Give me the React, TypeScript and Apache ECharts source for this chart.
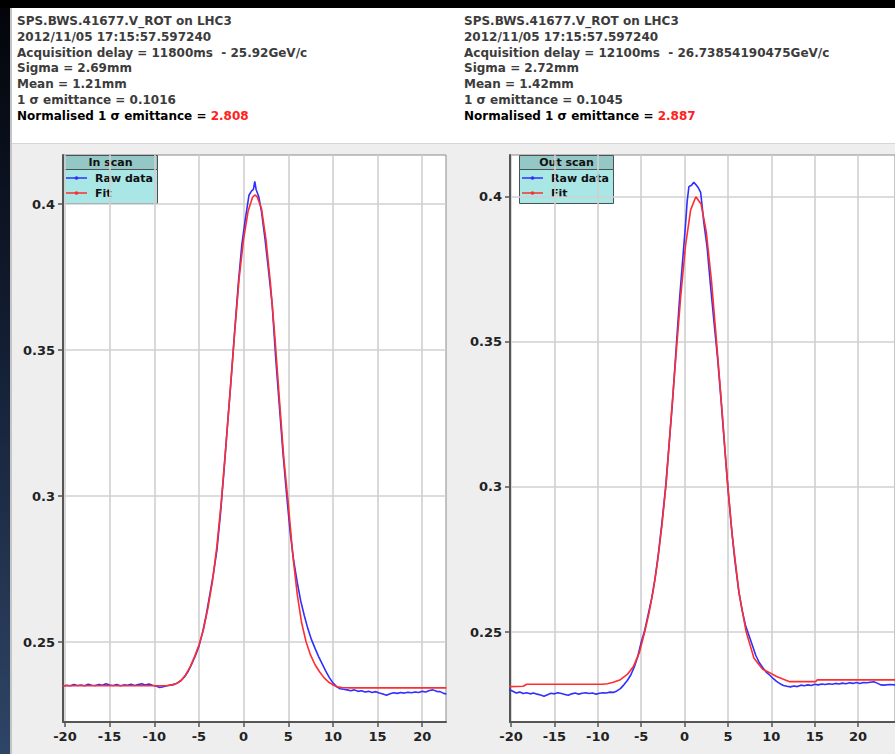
import React, { useEffect, useRef } from 'react';
import * as echarts from 'echarts';

const xTicks = [-20, -15, -10, -5, 0, 5, 10, 15, 20];
const yTicks = [0.25, 0.3, 0.35, 0.4];

const inScanTitle = 'In scan';
const outScanTitle = 'Out scan';
const rawName = 'Raw data';
const fitName = 'Fit';

const inInfo = [
  'SPS.BWS.41677.V_ROT on LHC3',
  '2012/11/05 17:15:57.597240',
  'Acquisition delay = 11800ms  - 25.92GeV/c',
  'Sigma = 2.69mm',
  'Mean = 1.21mm',
  '1 σ emittance = 0.1016',
];
const inNormLabel = 'Normalised 1 σ emittance = ';
const inNormValue = '2.808';

const outInfo = [
  'SPS.BWS.41677.V_ROT on LHC3',
  '2012/11/05 17:15:57.597240',
  'Acquisition delay = 12100ms  - 26.73854190475GeV/c',
  'Sigma = 2.72mm',
  'Mean = 1.42mm',
  '1 σ emittance = 0.1045',
];
const outNormLabel = 'Normalised 1 σ emittance = ';
const outNormValue = '2.887';

const inScanRaw: [number, number][] = [
  [-20.2, 0.2349], [-19.8, 0.2352], [-19.4, 0.235], [-19.0, 0.2354], [-18.6, 0.2351], [-18.2, 0.2353],
  [-17.8, 0.235], [-17.4, 0.2355], [-17.0, 0.2352], [-16.6, 0.2351], [-16.2, 0.2354], [-15.8, 0.2352],
  [-15.4, 0.2357], [-15.0, 0.2353], [-14.6, 0.2351], [-14.2, 0.2354], [-13.8, 0.235], [-13.4, 0.2353],
  [-13.0, 0.2352], [-12.6, 0.2355], [-12.2, 0.2351], [-11.8, 0.2354], [-11.4, 0.2357], [-11.0, 0.2353],
  [-10.6, 0.2356], [-10.2, 0.2352], [-9.8, 0.2349], [-9.4, 0.2344], [-9.0, 0.2347], [-8.6, 0.235],
  [-8.2, 0.2352], [-7.8, 0.2354], [-7.4, 0.236], [-7.0, 0.2368], [-6.6, 0.2381], [-6.2, 0.24],
  [-5.8, 0.2425], [-5.4, 0.2453], [-5.0, 0.2485], [-4.6, 0.2532], [-4.2, 0.259], [-3.8, 0.266],
  [-3.4, 0.273], [-3.0, 0.2812], [-2.6, 0.2935], [-2.2, 0.3085], [-1.8, 0.3245], [-1.4, 0.34],
  [-1.0, 0.3565], [-0.6, 0.3725], [-0.2, 0.386], [0.2, 0.395], [0.6, 0.403], [0.9, 0.4045],
  [1.1, 0.405], [1.25, 0.4078], [1.4, 0.405], [1.7, 0.4025], [2.0, 0.3975], [2.4, 0.388],
  [2.8, 0.377], [3.2, 0.3655], [3.6, 0.347], [4.0, 0.331], [4.4, 0.315], [4.8, 0.301],
  [5.2, 0.288], [5.6, 0.278], [6.0, 0.2705], [6.4, 0.264], [6.8, 0.259], [7.2, 0.2545],
  [7.6, 0.2508], [8.0, 0.2478], [8.4, 0.245], [8.8, 0.2425], [9.2, 0.24], [9.6, 0.2378],
  [10.0, 0.236], [10.4, 0.2347], [10.8, 0.234], [11.2, 0.2338], [11.6, 0.2336], [12.0, 0.2333],
  [12.4, 0.2336], [12.8, 0.2331], [13.2, 0.2333], [13.6, 0.2329], [14.0, 0.2331], [14.4, 0.2327],
  [14.8, 0.233], [15.2, 0.2325], [15.6, 0.2322], [16.0, 0.2318], [16.4, 0.2323], [16.8, 0.2326],
  [17.2, 0.2324], [17.6, 0.2327], [18.0, 0.2325], [18.4, 0.2328], [18.8, 0.2326], [19.2, 0.2329],
  [19.6, 0.2327], [20.0, 0.2331], [20.4, 0.2329], [20.8, 0.2334], [21.2, 0.2336], [21.6, 0.2331],
  [22.0, 0.233], [22.4, 0.2324], [22.7, 0.2322],
];

const inScanFit: [number, number][] = [
  [-20.22, 0.235], [-12.0, 0.235], [-9.0, 0.235], [-8.5, 0.2351], [-8.0, 0.2354], [-7.5, 0.2358],
  [-7.0, 0.2368], [-6.5, 0.2387], [-6.0, 0.2414], [-5.5, 0.2449], [-5.0, 0.249], [-4.5, 0.2542],
  [-4.0, 0.2615], [-3.5, 0.2705], [-3.0, 0.2825], [-2.5, 0.298], [-2.0, 0.3165], [-1.5, 0.336],
  [-1.0, 0.356], [-0.5, 0.3745], [0.0, 0.388], [0.5, 0.3975], [1.0, 0.4023], [1.25, 0.4031],
  [1.5, 0.4026], [2.0, 0.3985], [2.5, 0.388], [3.0, 0.373], [3.5, 0.3545], [4.0, 0.3335],
  [4.5, 0.313], [5.0, 0.2975], [5.5, 0.28], [6.0, 0.2665], [6.5, 0.2565], [7.0, 0.25],
  [7.5, 0.2455], [8.0, 0.2422], [8.5, 0.2398], [9.0, 0.2378], [9.5, 0.2363], [10.0, 0.2353],
  [10.5, 0.2347], [11.0, 0.2344], [12.0, 0.2343], [22.7, 0.2343],
];

const outScanRaw: [number, number][] = [
  [-20.2, 0.2302], [-19.8, 0.2296], [-19.4, 0.229], [-19.0, 0.2293], [-18.6, 0.2288], [-18.2, 0.2291],
  [-17.8, 0.2287], [-17.4, 0.229], [-17.0, 0.2286], [-16.6, 0.2283], [-16.2, 0.2279], [-15.8, 0.2284],
  [-15.4, 0.2289], [-15.0, 0.2287], [-14.6, 0.2291], [-14.2, 0.2288], [-13.8, 0.2285], [-13.4, 0.2282],
  [-13.0, 0.2287], [-12.6, 0.229], [-12.2, 0.2286], [-11.8, 0.2289], [-11.4, 0.2291], [-11.0, 0.2288],
  [-10.6, 0.229], [-10.2, 0.2286], [-9.8, 0.2289], [-9.4, 0.2291], [-9.0, 0.229], [-8.6, 0.2293],
  [-8.2, 0.2292], [-7.8, 0.2297], [-7.4, 0.2305], [-7.0, 0.2318], [-6.6, 0.2333], [-6.2, 0.2352],
  [-5.8, 0.238], [-5.4, 0.2415], [-5.0, 0.2465], [-4.6, 0.2505], [-4.2, 0.256], [-3.8, 0.2615],
  [-3.4, 0.2685], [-3.0, 0.2775], [-2.6, 0.288], [-2.2, 0.2995], [-1.8, 0.314], [-1.4, 0.329],
  [-1.0, 0.3465], [-0.6, 0.364], [-0.2, 0.379], [0.1, 0.39], [0.3, 0.3985], [0.5, 0.4035],
  [0.8, 0.404], [1.06, 0.405], [1.3, 0.4042], [1.6, 0.403], [1.85, 0.4015], [2.0, 0.3975],
  [2.2, 0.3915], [2.6, 0.3825], [3.0, 0.369], [3.4, 0.3565], [3.8, 0.3445], [4.2, 0.33],
  [4.6, 0.3145], [5.0, 0.2995], [5.4, 0.286], [5.8, 0.2745], [6.2, 0.265], [6.6, 0.258],
  [7.0, 0.2525], [7.4, 0.249], [7.8, 0.2455], [8.2, 0.242], [8.6, 0.2395], [9.0, 0.2378],
  [9.4, 0.2362], [9.8, 0.2352], [10.2, 0.234], [10.6, 0.233], [11.0, 0.2322], [11.4, 0.2316],
  [11.8, 0.2313], [12.2, 0.2311], [12.6, 0.2314], [13.0, 0.2312], [13.4, 0.2317], [13.8, 0.2315],
  [14.2, 0.2318], [14.6, 0.2316], [15.0, 0.232], [15.4, 0.2318], [15.8, 0.2321], [16.2, 0.2319],
  [16.6, 0.2322], [17.0, 0.232], [17.4, 0.2323], [17.8, 0.2321], [18.2, 0.2324], [18.6, 0.2322],
  [19.0, 0.2325], [19.4, 0.2323], [19.8, 0.2326], [20.2, 0.2323], [20.6, 0.2326], [21.0, 0.2325],
  [21.4, 0.2327], [21.8, 0.2329], [22.2, 0.2324], [22.6, 0.2318], [23.0, 0.2317], [23.6, 0.2319],
  [24.3, 0.2318],
];

const outScanFit: [number, number][] = [
  [-20.2, 0.2312], [-18.6, 0.2313], [-18.2, 0.232], [-9.5, 0.232], [-8.9, 0.2322], [-8.2, 0.2327],
  [-7.4, 0.2336], [-6.6, 0.2354], [-5.9, 0.2381], [-5.2, 0.243], [-4.6, 0.25], [-4.1, 0.2565],
  [-3.6, 0.2645], [-3.1, 0.2745], [-2.6, 0.287], [-2.1, 0.302], [-1.6, 0.322], [-1.0, 0.345],
  [-0.45, 0.3655], [0.1, 0.383], [0.7, 0.3955], [1.3, 0.4], [1.9, 0.3975], [2.5, 0.388],
  [3.1, 0.371], [3.7, 0.3495], [4.3, 0.327], [4.9, 0.303], [5.5, 0.283], [6.3, 0.263],
  [7.1, 0.25], [8.0, 0.241], [9.0, 0.2372], [9.8, 0.236], [10.6, 0.2347], [11.4, 0.2337],
  [12.1, 0.2329], [15.1, 0.2329], [15.3, 0.2335], [24.3, 0.2335],
];

const FONT = 'DejaVu Sans';
const BLUE = '#2f2fff';
const RED = '#ff2e2e';

function xAxisCfg(gridIndex: number, min: number, max: number) {
  return {
    type: 'value', gridIndex, min, max, position: 'bottom',
    axisLine: { show: true, onZero: false, lineStyle: { color: '#555', width: 2 } },
    axisTick: { show: true, length: 5, customValues: xTicks, lineStyle: { color: '#555', width: 1.5 } },
    axisLabel: {
      customValues: xTicks, color: '#222', fontWeight: 'bold', fontSize: 13, fontFamily: FONT, margin: 8,
      formatter: (v: number) => String(+v.toFixed(4)),
    },
    splitLine: { show: true, lineStyle: { color: '#d0d0d0', width: 1.6 } },
  };
}

function yAxisCfg(gridIndex: number, min: number, max: number) {
  return {
    type: 'value', gridIndex, min, max, position: 'left',
    axisLine: { show: true, onZero: false, lineStyle: { color: '#555', width: 2 } },
    axisTick: { show: true, length: 5, customValues: yTicks, lineStyle: { color: '#555', width: 1.5 } },
    axisLabel: {
      customValues: yTicks, color: '#222', fontWeight: 'bold', fontSize: 13, fontFamily: FONT, margin: 8,
      formatter: (v: number) => String(+v.toFixed(4)),
    },
    splitLine: { show: true, lineStyle: { color: '#d0d0d0', width: 1.6 } },
  };
}

function infoTexts(x: number, lines: string[], normLabel: string, normValue: string) {
  const font = `bold 12px "${FONT}"`;
  const els: any[] = lines.map((t, i) => ({
    type: 'text', z: 5,
    style: {
      text: t, x, y: 21 + i * 15.83, fill: '#3c3c3c',
      font, verticalAlign: 'middle', textVerticalAlign: 'middle',
    },
  }));
  els.push({
    type: 'text', z: 5,
    style: {
      x, y: 116, verticalAlign: 'middle', textVerticalAlign: 'middle',
      text: `{a|${normLabel}}{b|${normValue}}`,
      font,
      rich: {
        a: { fill: '#000', color: '#000', font },
        b: { fill: '#ff2020', color: '#ff2020', font },
      },
    },
  });
  return els;
}

function legendBox(x: number, y: number, title: string) {
  const w = 94;
  const font = `bold 11px "${FONT}"`;
  return {
    type: 'group', z: 50,
    children: [
      { type: 'rect', shape: { x: x + 0.5, y: y + 0.5, width: w, height: 14 }, style: { fill: '#93c8c7', stroke: '#505050', lineWidth: 1 } },
      { type: 'rect', shape: { x: x + 0.5, y: y + 14.5, width: w, height: 34 }, style: { fill: '#a9e6e6', stroke: '#505050', lineWidth: 1 } },
      { type: 'text', style: { text: title, x: x + w / 2 + 0.5, y: y + 7.5, font, fill: '#111', align: 'center', textAlign: 'center', verticalAlign: 'middle', textVerticalAlign: 'middle' } },
      { type: 'line', shape: { x1: x + 3, y1: y + 23, x2: x + 24, y2: y + 23 }, style: { stroke: BLUE, lineWidth: 1.5 } },
      { type: 'circle', shape: { cx: x + 13.5, cy: y + 23, r: 1.8 }, style: { fill: BLUE } },
      { type: 'text', style: { text: rawName, x: x + 32, y: y + 23, font, fill: '#111', verticalAlign: 'middle', textVerticalAlign: 'middle' } },
      { type: 'line', shape: { x1: x + 3, y1: y + 38, x2: x + 24, y2: y + 38 }, style: { stroke: RED, lineWidth: 1.5 } },
      { type: 'circle', shape: { cx: x + 13.5, cy: y + 38, r: 1.8 }, style: { fill: RED } },
      { type: 'text', style: { text: fitName, x: x + 32, y: y + 38, font, fill: '#111', verticalAlign: 'middle', textVerticalAlign: 'middle' } },
    ],
  };
}

function lineSeries(name: string, data: [number, number][], idx: number, color: string, z: number) {
  return {
    type: 'line', name, data, xAxisIndex: idx, yAxisIndex: idx,
    showSymbol: false, symbol: 'none', smooth: false, clip: true, z,
    lineStyle: { color, width: 1.6 }, itemStyle: { color },
  };
}

export default function App() {
  const ref = useRef<HTMLDivElement>(null);
  useEffect(() => {
    const chart = echarts.init(ref.current!, null, { renderer: 'svg' });
    const option: any = {
      animation: false,
      backgroundColor: '#eeeeee',
      textStyle: { fontFamily: FONT },
      legend: { show: false },
      grid: [
        { left: 63, top: 155, width: 383, height: 567, show: true, backgroundColor: '#ffffff', borderColor: '#8a8a8a', borderWidth: 1 },
        { left: 510, top: 155, width: 390, height: 567, show: true, backgroundColor: '#ffffff', borderColor: '#8a8a8a', borderWidth: 1 },
      ],
      xAxis: [xAxisCfg(0, -20.22, 22.66), xAxisCfg(1, -20.12, 24.25)],
      yAxis: [yAxisCfg(0, 0.2226, 0.4168), yAxisCfg(1, 0.219, 0.4144)],
      series: [
        lineSeries(rawName, inScanRaw, 0, BLUE, 2),
        lineSeries(fitName, inScanFit, 0, RED, 3),
        lineSeries(rawName, outScanRaw, 1, BLUE, 2),
        lineSeries(fitName, outScanFit, 1, RED, 3),
      ],
      graphic: [
        { type: 'rect', z: -10, shape: { x: 0, y: 0, width: 895, height: 8 }, style: { fill: '#000' } },
        {
          type: 'rect', z: -10, shape: { x: 0, y: 8, width: 10, height: 746 },
          style: {
            fill: {
              type: 'linear', x: 0, y: 0, x2: 0, y2: 1,
              colorStops: [
                { offset: 0, color: '#03050a' },
                { offset: 0.45, color: '#131e33' },
                { offset: 1, color: '#2f4566' },
              ],
            },
          },
        },
        { type: 'rect', z: -10, shape: { x: 10, y: 8, width: 2, height: 746 }, style: { fill: '#c4c4c4' } },
        { type: 'rect', z: -10, shape: { x: 12, y: 8, width: 883, height: 136 }, style: { fill: '#ffffff' } },
        { type: 'line', z: -9, shape: { x1: 12, y1: 143.5, x2: 895, y2: 143.5 }, style: { stroke: '#d6d6d6', lineWidth: 1 } },
        ...infoTexts(17, inInfo, inNormLabel, inNormValue),
        ...infoTexts(464, outInfo, outNormLabel, outNormValue),
        legendBox(63, 155, inScanTitle),
        legendBox(519, 155, outScanTitle),
      ],
    };
    chart.setOption(option);
    return () => chart.dispose();
  }, []);
  return <div ref={ref} style={{ position: 'absolute', left: 0, top: 0, width: 895, height: 754 }} />;
}
